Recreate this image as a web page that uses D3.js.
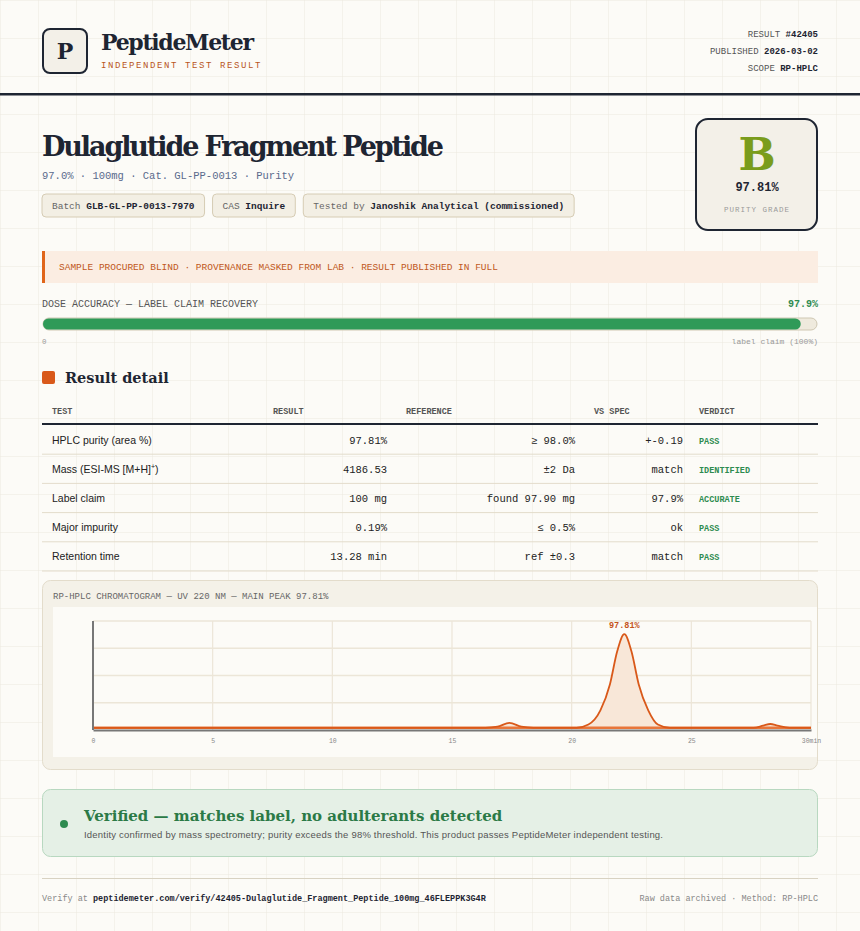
<!DOCTYPE html>
<html><head><meta charset="utf-8">
<script src="https://cdn.jsdelivr.net/npm/d3@7"></script>
<style>
html,body{margin:0;padding:0;background:#fcfbf7;}
svg{display:block;}
.serif{font-family:"DejaVu Serif",serif;}
.mono{font-family:"Liberation Mono","DejaVu Sans Mono",monospace;}
.sans{font-family:"Liberation Sans","Roboto",sans-serif;}
</style></head>
<body><svg id="page" width="860" height="931"></svg>
<script>
// Meta lines in header.
var meta = [["RESULT ", "#42405"], ["PUBLISHED ", "2026-03-02"], ["SCOPE ", "RP-HPLC"]];
// Chips under the title.
var chips = [["Batch ", "GLB-GL-PP-0013-7970"], ["CAS ", "Inquire"], ["Tested by ", "Janoshik Analytical (commissioned)"]];
// Table.
var columns = ["TEST", "RESULT", "REFERENCE", "VS SPEC", "VERDICT"];
var tests = ["HPLC purity (area %)", "Mass (ESI-MS [M+H]\u207A)", "Label claim", "Major impurity", "Retention time"];
var results = ["97.81%", "4186.53", "100 mg", "0.19%", "13.28 min"];
var references = ["\u2265 98.0%", "\u00B12 Da", "found 97.90 mg", "\u2264 0.5%", "ref \u00B10.3"];
var vsSpec = ["+-0.19", "match", "97.9%", "ok", "match"];
var verdicts = ["PASS", "IDENTIFIED", "ACCURATE", "PASS", "PASS"];
// Dose accuracy.
var doseRecovery = 97.9;
// Chromatogram trace (minutes, intensity).
var traceTime = [0, 16.4, 16.9, 17.4, 17.9, 18.4, 20.2, 20.7, 21.2, 21.6, 21.9, 22.2, 22.5, 22.8, 23.2, 23.6, 24.1, 27.6, 28.0, 28.3, 28.6, 29.1, 30];
var traceValue = [2, 2, 3, 6.5, 3, 2, 2, 5, 18, 42, 72, 88, 72, 42, 18, 5, 2, 2, 4, 5.5, 4, 2, 2];
var xTicks = [0, 5, 10, 15, 20, 25, 30];
var mainPeak = {t: 22.2, v: 88, label: "97.81%"};

var dark = "#1e2532", orange = "#d9591a", green = "#2e8b50";
var svg = d3.select("#page");

// Background grid.
var defs = svg.append("defs");
var pat = defs.append("pattern").attr("id", "grid").attr("width", 38).attr("height", 38)
  .attr("patternUnits", "userSpaceOnUse").attr("x", 1).attr("y", 1);
pat.append("path").attr("d", "M38 0V38M0 38H38").attr("stroke", "#ece9df").attr("fill", "none");
svg.append("rect").attr("width", 860).attr("height", 931).attr("fill", "#fcfbf7");
svg.append("rect").attr("width", 860).attr("height", 931).attr("fill", "url(#grid)");

// Header logo.
svg.append("rect").attr("x", 43).attr("y", 29).attr("width", 44).attr("height", 44).attr("rx", 7)
  .attr("fill", "#f3f0e8").attr("stroke", dark).attr("stroke-width", 2);
svg.append("text").attr("class", "serif").attr("x", 65).attr("y", 59).attr("text-anchor", "middle")
  .attr("font-size", 22).attr("font-weight", "bold").attr("fill", dark).text("P");
svg.append("text").attr("class", "serif").attr("x", 101).attr("y", 50).attr("font-size", 22)
  .attr("font-weight", "bold").attr("fill", dark).attr("textLength", 153).text("PeptideMeter");
svg.append("text").attr("class", "mono").attr("x", 101).attr("y", 68).attr("font-size", 9)
  .attr("letter-spacing", 1.6).attr("fill", "#b8561c").text("INDEPENDENT TEST RESULT");
meta.forEach(function(m, i) {
  var t = svg.append("text").attr("class", "mono").attr("x", 818).attr("y", 37 + i * 17)
    .attr("text-anchor", "end").attr("font-size", 9).attr("fill", "#555");
  t.append("tspan").text(m[0]);
  t.append("tspan").attr("font-weight", "bold").attr("fill", dark).text(m[1]);
});
svg.append("rect").attr("x", 0).attr("y", 93).attr("width", 860).attr("height", 2.5).attr("fill", dark);

// Title.
svg.append("text").attr("class", "serif").attr("x", 42).attr("y", 156).attr("font-size", 27)
  .attr("font-weight", "bold").attr("fill", dark).attr("textLength", 402).text("Dulaglutide Fragment Peptide");
svg.append("text").attr("class", "mono").attr("x", 42).attr("y", 179).attr("font-size", 10.5)
  .attr("fill", "#5a6a8c").text("97.0% \u00B7 100mg \u00B7 Cat. GL-PP-0013 \u00B7 Purity");
var cx = 42;
chips.forEach(function(c) {
  var g = svg.append("g");
  var t = g.append("text").attr("class", "mono").attr("x", cx + 10).attr("y", 209).attr("font-size", 9.5).attr("fill", "#666");
  t.append("tspan").text(c[0]);
  t.append("tspan").attr("font-weight", "bold").attr("fill", dark).text(c[1]);
  var w = t.node().getComputedTextLength() + 20;
  g.insert("rect", "text").attr("x", cx).attr("y", 194).attr("width", w).attr("height", 23).attr("rx", 4)
    .attr("fill", "#f3efe4").attr("stroke", "#d6ccb4");
  cx += w + 8;
});

// Grade box.
svg.append("rect").attr("x", 696).attr("y", 119).attr("width", 121).attr("height", 111).attr("rx", 12)
  .attr("fill", "#f3f0e8").attr("stroke", dark).attr("stroke-width", 2);
svg.append("text").attr("class", "serif").attr("x", 757).attr("y", 170).attr("text-anchor", "middle")
  .attr("font-size", 44).attr("font-weight", "bold").attr("fill", "#7a9c1c").text("B");
svg.append("text").attr("class", "mono").attr("x", 757).attr("y", 191).attr("text-anchor", "middle")
  .attr("font-size", 12).attr("font-weight", "bold").attr("fill", dark).text("97.81%");
svg.append("text").attr("class", "mono").attr("x", 757).attr("y", 212).attr("text-anchor", "middle")
  .attr("font-size", 7.5).attr("letter-spacing", 1).attr("fill", "#9a9a9a").text("PURITY GRADE");

// Banner.
svg.append("rect").attr("x", 42).attr("y", 251).attr("width", 776).attr("height", 32).attr("fill", "#fbede2");
svg.append("rect").attr("x", 42).attr("y", 251).attr("width", 3).attr("height", 32).attr("fill", "#e0651a");
svg.append("text").attr("class", "mono").attr("x", 59).attr("y", 270).attr("font-size", 9.5)
  .attr("fill", "#c0581c").text("SAMPLE PROCURED BLIND \u00B7 PROVENANCE MASKED FROM LAB \u00B7 RESULT PUBLISHED IN FULL");

// Dose accuracy bar.
var xd = d3.scaleLinear().domain([0, 100]).range([43, 817]);
svg.append("text").attr("class", "mono").attr("x", 42).attr("y", 307).attr("font-size", 10)
  .attr("fill", "#555").text("DOSE ACCURACY \u2014 LABEL CLAIM RECOVERY");
svg.append("text").attr("class", "mono").attr("x", 818).attr("y", 307).attr("text-anchor", "end")
  .attr("font-size", 10).attr("font-weight", "bold").attr("fill", green).text(doseRecovery + "%");
svg.append("rect").attr("x", xd(0)).attr("y", 318).attr("width", xd(100) - xd(0)).attr("height", 12).attr("rx", 6)
  .attr("fill", "#efeadd").attr("stroke", "#cfc7b2");
svg.append("rect").attr("x", xd(0)).attr("y", 318.5).attr("width", xd(doseRecovery) - xd(0)).attr("height", 11).attr("rx", 5.5)
  .attr("fill", "#2f9a58");
svg.append("text").attr("class", "mono").attr("x", 42).attr("y", 344).attr("font-size", 7.5).attr("fill", "#999").text("0");
svg.append("text").attr("class", "mono").attr("x", 818).attr("y", 344).attr("text-anchor", "end")
  .attr("font-size", 8).attr("fill", "#999").text("label claim (100%)");

// Result detail.
svg.append("rect").attr("x", 42).attr("y", 371).attr("width", 13).attr("height", 13).attr("rx", 2).attr("fill", orange);
svg.append("text").attr("class", "serif").attr("x", 65).attr("y", 383).attr("font-size", 14.5)
  .attr("font-weight", "bold").attr("fill", dark).text("Result detail");

var colX = [52, 273, 406, 594, 699];
var colAnchor = [387, 575, 683];
columns.forEach(function(c, i) {
  svg.append("text").attr("class", "mono").attr("x", colX[i]).attr("y", 414).attr("font-size", 8.5)
    .attr("font-weight", "bold").attr("fill", "#555").text(c);
});
svg.append("rect").attr("x", 42).attr("y", 423).attr("width", 776).attr("height", 2).attr("fill", dark);
var rowY = d3.scaleBand().domain(d3.range(tests.length)).range([425, 571]);
tests.forEach(function(t, i) {
  var y = rowY(i) + rowY.bandwidth() / 2 + 4;
  svg.append("line").attr("x1", 42).attr("x2", 818).attr("y1", rowY(i) + rowY.bandwidth()).attr("y2", rowY(i) + rowY.bandwidth())
    .attr("stroke", "#e3dccb");
  var tt = svg.append("text").attr("class", "sans").attr("x", 52).attr("y", y).attr("font-size", 10.5).attr("fill", "#222");
  if (t.indexOf("\u207A") >= 0) {
    tt.append("tspan").text(t.replace("\u207A)", ""));
    tt.append("tspan").attr("font-size", 7).attr("dy", -4).text("+");
    tt.append("tspan").attr("dy", 4).text(")");
  } else tt.text(t);
  [results[i], references[i], vsSpec[i]].forEach(function(v, j) {
    svg.append("text").attr("class", "mono").attr("x", colAnchor[j]).attr("y", y).attr("text-anchor", "end")
      .attr("font-size", 10.5).attr("fill", "#222").text(v);
  });
  svg.append("text").attr("class", "mono").attr("x", 699).attr("y", y).attr("font-size", 8.5)
    .attr("font-weight", "bold").attr("fill", green).text(verdicts[i]);
});

// Chromatogram card.
svg.append("rect").attr("x", 42.5).attr("y", 580.5).attr("width", 775).attr("height", 189).attr("rx", 8)
  .attr("fill", "#f4f1e8").attr("stroke", "#e3dccb");
svg.append("text").attr("class", "mono").attr("x", 53).attr("y", 599).attr("font-size", 9)
  .attr("fill", "#666").text("RP-HPLC CHROMATOGRAM \u2014 UV 220 NM \u2014 MAIN PEAK 97.81%");
svg.append("rect").attr("x", 53).attr("y", 607).attr("width", 764).attr("height", 150).attr("fill", "#fcfbf7");

var x = d3.scaleLinear().domain([0, 30]).range([93, 811]);
var y = d3.scaleLinear().domain([0, 100]).range([730, 621]);
var chart = svg.append("g");
chart.selectAll(".hg").data([25, 50, 75, 100]).enter().append("line")
  .attr("x1", x(0)).attr("x2", x(30)).attr("y1", function(d) { return y(d); })
  .attr("y2", function(d) { return y(d); }).attr("stroke", "#ece6d8").attr("stroke-width", 1.5);
chart.selectAll(".vg").data(xTicks.slice(1)).enter().append("line")
  .attr("x1", function(d) { return x(d); }).attr("x2", function(d) { return x(d); })
  .attr("y1", y(100)).attr("y2", y(0)).attr("stroke", "#ece6d8").attr("stroke-width", 1.2);

var pts = traceTime.map(function(t, i) { return [t, traceValue[i]]; });
chart.append("path").datum(pts).attr("fill", "#f8e7d8")
  .attr("d", d3.area().x(function(d) { return x(d[0]); }).y0(y(2)).y1(function(d) { return y(d[1]); }).curve(d3.curveMonotoneX));
chart.append("line").attr("x1", x(0)).attr("x2", x(30)).attr("y1", y(2)).attr("y2", y(2))
  .attr("stroke", "#e8763a").attr("stroke-width", 2.5);
chart.append("path").datum(pts).attr("fill", "none").attr("stroke", orange).attr("stroke-width", 1.8)
  .attr("d", d3.line().x(function(d) { return x(d[0]); }).y(function(d) { return y(d[1]); }).curve(d3.curveMonotoneX));

var xAxis = chart.append("g").attr("transform", "translate(0," + y(0) + ")")
  .call(d3.axisBottom(x).tickValues(xTicks).tickSize(0).tickPadding(8)
    .tickFormat(function(d) { return d == 30 ? "30min" : d; }));
xAxis.select(".domain").attr("stroke", "#777").attr("stroke-width", 2);
xAxis.selectAll("text").attr("class", "mono").attr("font-size", 6.5).attr("fill", "#888");
chart.append("line").attr("x1", x(0)).attr("x2", x(0)).attr("y1", y(100)).attr("y2", y(0))
  .attr("stroke", "#777").attr("stroke-width", 2);
chart.append("text").attr("class", "mono").attr("x", x(mainPeak.t)).attr("y", y(mainPeak.v) - 6)
  .attr("text-anchor", "middle").attr("font-size", 8.5).attr("font-weight", "bold").attr("fill", "#c4531a").text(mainPeak.label);

// Verified box.
svg.append("rect").attr("x", 42.5).attr("y", 789.5).attr("width", 775).attr("height", 67).attr("rx", 8)
  .attr("fill", "#e5f0e6").attr("stroke", "#b8d8c0");
svg.append("circle").attr("cx", 64).attr("cy", 824).attr("r", 4).attr("fill", green);
svg.append("text").attr("class", "serif").attr("x", 84).attr("y", 821).attr("font-size", 15)
  .attr("font-weight", "bold").attr("fill", "#2b7a46").text("Verified \u2014 matches label, no adulterants detected");
svg.append("text").attr("class", "sans").attr("x", 84).attr("y", 838).attr("font-size", 9.5)
  .attr("fill", "#555").attr("textLength", 579).text("Identity confirmed by mass spectrometry; purity exceeds the 98% threshold. This product passes PeptideMeter independent testing.");

// Footer.
svg.append("line").attr("x1", 42).attr("x2", 818).attr("y1", 878.5).attr("y2", 878.5).attr("stroke", "#d8d2c2");
var ft = svg.append("text").attr("class", "mono").attr("x", 42).attr("y", 901).attr("font-size", 8.5).attr("fill", "#888");
ft.append("tspan").text("Verify at ");
ft.append("tspan").attr("font-weight", "bold").attr("fill", dark).text("peptidemeter.com/verify/42405-Dulaglutide_Fragment_Peptide_100mg_46FLEPPK3G4R");
svg.append("text").attr("class", "mono").attr("x", 818).attr("y", 901).attr("text-anchor", "end")
  .attr("font-size", 8.5).attr("fill", "#888").text("Raw data archived \u00B7 Method: RP-HPLC");
</script></body></html>
